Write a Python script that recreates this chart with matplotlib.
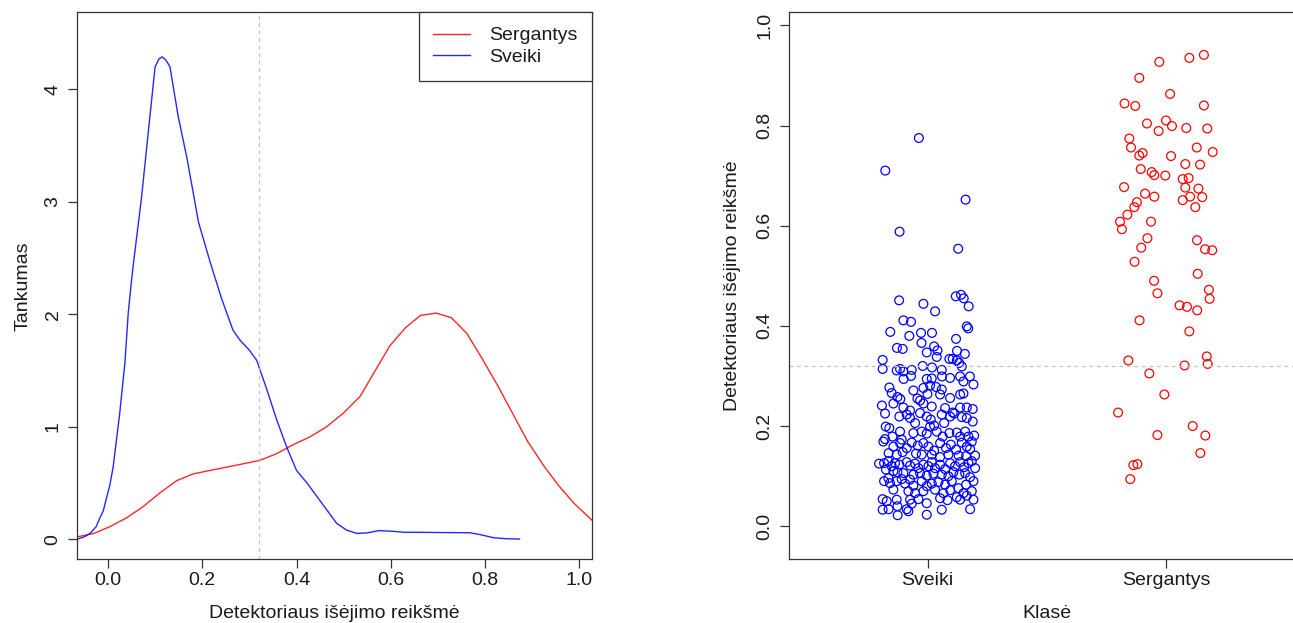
import matplotlib
matplotlib.use("Agg")
import matplotlib.pyplot as plt

plt.rcParams['font.family'] = ['Liberation Sans', 'DejaVu Sans']

# ---------------- data ----------------
# density curve of "Sveiki" (healthy)
sveiki_dens_x = [-0.065, -0.05, -0.038, -0.025, -0.017, -0.010, 0.004, 0.011, 0.025, 0.036,
                 0.043, 0.050, 0.054, 0.071, 0.089, 0.100, 0.108, 0.115, 0.123, 0.1316,
                 0.149, 0.168, 0.192, 0.217, 0.241, 0.265, 0.280, 0.300, 0.3155, 0.337,
                 0.358, 0.379, 0.400, 0.422, 0.443, 0.464, 0.485, 0.506, 0.528, 0.55,
                 0.574, 0.60, 0.631, 0.662, 0.704, 0.768, 0.789, 0.818, 0.845, 0.873]
sveiki_dens_y = [0.0, 0.02, 0.05, 0.11, 0.19, 0.25, 0.48, 0.64, 1.12, 1.57,
                 2.01, 2.30, 2.45, 3.03, 3.76, 4.20, 4.27, 4.29, 4.26, 4.20,
                 3.76, 3.38, 2.82, 2.46, 2.14, 1.86, 1.77, 1.68, 1.59, 1.33,
                 1.06, 0.82, 0.61, 0.50, 0.38, 0.26, 0.14, 0.08, 0.05, 0.055,
                 0.075, 0.07, 0.06, 0.06, 0.058, 0.056, 0.04, 0.012, 0.003, 0.0]

# density curve of "Sergantys" (diseased)
serg_dens_x = [-0.065, -0.03, 0.004, 0.04, 0.075, 0.110, 0.146, 0.181, 0.216, 0.252,
               0.287, 0.322, 0.358, 0.393, 0.429, 0.464, 0.499, 0.535, 0.56, 0.598,
               0.631, 0.663, 0.696, 0.728, 0.761, 0.793, 0.826, 0.858, 0.890, 0.923,
               0.955, 0.988, 1.026]
serg_dens_y = [0.02, 0.05, 0.11, 0.19, 0.29, 0.41, 0.52, 0.58, 0.61, 0.64,
               0.67, 0.70, 0.76, 0.84, 0.91, 1.0, 1.12, 1.27, 1.45, 1.72,
               1.88, 1.99, 2.01, 1.97, 1.83, 1.61, 1.37, 1.12, 0.87, 0.66,
               0.48, 0.32, 0.17]

threshold = 0.32

# strip chart: jittered class position and detector output
sveiki_pts = [
    (0.963, 0.775), (0.822, 0.71), (1.159, 0.652), (0.882, 0.588), (1.128, 0.554),
    (0.88, 0.451), (0.982, 0.444), (1.031, 0.429), (1.118, 0.459), (1.14, 0.462), (1.151, 0.455),
    (1.172, 0.439), (0.898, 0.411), (0.93, 0.408), (1.164, 0.399), (1.17, 0.395),
    (0.843, 0.388), (0.923, 0.38), (0.972, 0.386), (1.018, 0.386), (0.974, 0.366), (1.119, 0.374),
    (0.871, 0.356), (0.895, 0.354), (1.027, 0.359), (1.041, 0.351), (0.996, 0.347), (1.038, 0.338),
    (1.123, 0.35), (1.156, 0.344), (1.091, 0.334), (1.105, 0.334), (1.122, 0.331),
    (0.811, 0.332), (0.811, 0.314), (0.87, 0.311), (0.884, 0.314), (0.898, 0.309), (0.933, 0.312),
    (0.979, 0.32), (1.018, 0.317), (1.059, 0.312), (1.132, 0.326), (1.143, 0.319), (0.93, 0.30),
    (0.899, 0.294), (0.996, 0.294), (1.017, 0.295), (1.06, 0.299), (1.094, 0.296), (1.136, 0.299),
    (1.177, 0.299), (1.15, 0.289), (1.192, 0.283),
    (0.839, 0.277), (0.849, 0.266), (0.873, 0.258), (0.885, 0.254), (0.94, 0.271), (0.957, 0.255),
    (0.968, 0.251), (0.982, 0.276), (1.01, 0.281), (1.035, 0.278), (1.059, 0.273), (1.094, 0.256),
    (1.136, 0.263), (1.15, 0.265), (1.052, 0.263), (0.999, 0.264), (0.856, 0.245), (0.898, 0.237),
    (0.926, 0.231), (0.982, 0.245), (1.017, 0.239), (1.073, 0.236), (1.105, 0.227), (1.136, 0.237),
    (1.164, 0.237), (1.189, 0.234), (0.808, 0.241), (0.821, 0.225),
    (0.824, 0.199), (0.839, 0.196), (0.881, 0.219), (0.912, 0.223), (0.926, 0.216), (0.947, 0.206),
    (0.968, 0.226), (0.996, 0.219), (1.013, 0.213), (1.027, 0.201), (1.059, 0.223), (1.069, 0.206),
    (1.094, 0.219), (1.112, 0.225), (1.143, 0.218), (1.164, 0.216), (1.189, 0.209), (0.821, 0.174),
    (0.852, 0.179), (0.884, 0.189), (0.891, 0.173), (0.94, 0.186), (0.975, 0.189), (0.996, 0.185),
    (1.01, 0.199), (1.038, 0.189), (1.063, 0.179), (1.091, 0.186), (1.122, 0.187), (1.136, 0.179),
    (1.157, 0.189), (1.171, 0.179), (1.195, 0.181),
    (0.814, 0.169), (0.856, 0.159), (0.884, 0.166), (0.912, 0.156), (0.933, 0.167), (0.958, 0.161),
    (0.982, 0.166), (1.003, 0.159), (1.027, 0.151), (1.052, 0.166), (1.077, 0.156), (1.097, 0.163),
    (1.119, 0.153), (1.143, 0.167), (1.164, 0.159), (1.185, 0.169), (1.178, 0.154), (0.836, 0.146),
    (0.87, 0.143), (0.895, 0.148), (0.951, 0.145), (0.975, 0.143), (1.017, 0.143), (1.052, 0.138),
    (1.087, 0.143), (1.13, 0.141), (1.161, 0.14), (1.199, 0.141),
    (0.796, 0.125), (0.817, 0.126), (0.835, 0.13), (0.849, 0.12), (0.863, 0.126), (0.881, 0.123),
    (0.825, 0.113), (0.856, 0.11), (0.873, 0.108), (0.912, 0.128), (0.926, 0.121), (0.947, 0.125),
    (0.961, 0.116), (0.982, 0.123), (1.003, 0.12), (1.017, 0.128), (1.031, 0.116), (1.052, 0.123),
    (1.073, 0.114), (1.094, 0.126), (1.115, 0.12), (1.136, 0.128), (1.153, 0.118), (1.171, 0.126),
    (1.185, 0.13), (1.199, 0.116), (0.898, 0.106), (0.94, 0.103), (0.968, 0.106), (0.996, 0.101),
    (1.024, 0.105), (1.059, 0.103), (1.087, 0.10), (1.108, 0.108), (1.133, 0.103), (1.157, 0.106),
    (1.178, 0.098), (0.835, 0.096), (0.891, 0.094), (0.926, 0.093),
    (0.817, 0.09), (0.842, 0.086), (0.87, 0.09), (0.905, 0.085), (0.94, 0.081), (0.975, 0.09),
    (0.996, 0.08), (1.017, 0.085), (1.045, 0.088), (1.073, 0.083), (1.101, 0.09), (1.129, 0.076),
    (1.161, 0.083), (1.192, 0.09), (0.856, 0.073), (0.919, 0.07), (0.947, 0.066), (0.982, 0.07),
    (1.031, 0.073), (1.066, 0.066), (1.094, 0.072), (1.15, 0.066), (1.185, 0.07), (0.811, 0.054),
    (0.828, 0.05), (0.87, 0.053), (0.926, 0.053), (0.961, 0.054), (0.996, 0.046), (1.052, 0.056),
    (1.083, 0.052), (1.122, 0.058), (1.164, 0.061), (1.192, 0.053), (0.811, 0.033), (0.836, 0.034),
    (0.873, 0.04), (0.912, 0.034), (0.933, 0.045), (0.996, 0.023), (1.059, 0.033), (1.136, 0.053),
    (1.178, 0.034), (0.874, 0.022), (0.919, 0.03),
]

sergantys_pts = [
    (1.972, 0.927), (2.098, 0.935), (2.159, 0.941), (1.888, 0.895), (2.017, 0.863), (1.826, 0.844),
    (1.871, 0.839), (2.159, 0.840), (1.920, 0.804), (2.000, 0.810), (2.025, 0.799), (1.969, 0.789),
    (2.085, 0.795), (2.173, 0.794), (1.846, 0.774), (1.853, 0.756), (2.129, 0.756), (2.196, 0.747),
    (1.888, 0.740), (1.902, 0.745), (2.021, 0.739), (2.081, 0.723), (2.143, 0.722), (1.894, 0.713),
    (1.940, 0.707), (1.951, 0.701), (1.997, 0.700), (2.070, 0.693), (2.095, 0.695), (1.824, 0.677),
    (2.081, 0.676), (2.136, 0.674), (1.912, 0.664), (1.951, 0.658), (2.101, 0.658), (2.152, 0.657),
    (2.070, 0.651), (2.123, 0.637), (1.878, 0.647), (1.867, 0.637), (1.838, 0.622), (1.807, 0.608),
    (1.815, 0.593), (1.937, 0.608), (1.922, 0.575), (1.896, 0.556), (2.130, 0.571), (2.164, 0.553),
    (2.194, 0.551), (1.868, 0.528), (2.133, 0.504), (1.950, 0.490), (1.964, 0.465), (2.180, 0.472),
    (2.183, 0.454), (2.057, 0.441), (2.088, 0.438), (2.131, 0.431), (1.889, 0.411), (2.098, 0.389),
    (1.842, 0.331), (2.171, 0.339), (2.175, 0.324), (2.078, 0.321), (1.930, 0.305), (1.993, 0.263),
    (1.799, 0.227), (2.112, 0.200), (1.964, 0.182), (2.165, 0.181), (2.144, 0.146), (1.863, 0.122),
    (1.880, 0.124), (1.850, 0.094),
]

class_labels = ["Sveiki", "Sergantys"]
class_pos = [1, 2]
density_yticks = [0, 1, 2, 3, 4]
density_xticks = [0.0, 0.2, 0.4, 0.6, 0.8, 1.0]
strip_yticks = [0.0, 0.2, 0.4, 0.6, 0.8, 1.0]

# ---------------- styling ----------------
W, H = 1293, 623
FS = 14
FRAME = '#333333'
TXT = '#1a1a1a'
RED = '#ff0000'
BLUE = '#0000ff'
GREY = '#c4c4c4'

fig = plt.figure(figsize=(W / 100, H / 100), dpi=100)

def px_axes(left, top, right, bottom):
    return fig.add_axes([left / W, 1 - bottom / H, (right - left) / W, (bottom - top) / H])

def style(ax):
    for s in ax.spines.values():
        s.set_color(FRAME)
        s.set_linewidth(0.9)
    ax.tick_params(direction='out', length=6.3, width=0.9, color=FRAME,
                   labelsize=FS, labelcolor=TXT)
    ax.tick_params(axis='x', pad=3)
    ax.tick_params(axis='y', pad=5)

# ---------------- left: densities ----------------
ax1 = px_axes(77.3, 12.3, 591.7, 559.3)
style(ax1)
ax1.plot(serg_dens_x, serg_dens_y, color=RED, lw=1.0, alpha=0.85, label='Sergantys')
ax1.plot(sveiki_dens_x, sveiki_dens_y, color=BLUE, lw=1.0, alpha=0.85, label='Sveiki')
ax1.axvline(threshold, color=GREY, lw=0.9, dashes=(3, 3))
ax1.set_xlim(-0.065, 1.026)
ax1.set_ylim(-0.18, 4.686)
ax1.set_xticks(density_xticks)
ax1.set_xticklabels([f"{v:.1f}" for v in density_xticks])
ax1.set_yticks(density_yticks)
ax1.set_yticklabels([str(v) for v in density_yticks], rotation=90, va='center')
ax1.set_xlabel("Detektoriaus išėjimo reikšmė", fontsize=FS, color=TXT)
ax1.set_ylabel("Tankumas", fontsize=FS, color=TXT)
ax1.xaxis.set_label_coords(0.5, -0.083)
ax1.yaxis.set_label_coords(-0.088, 0.5)

leg = ax1.legend(loc='upper right', borderaxespad=0, fancybox=False, framealpha=1,
                 edgecolor=FRAME, fontsize=FS, handlelength=1.9, handletextpad=0.95,
                 borderpad=0.75, labelspacing=0.2)
leg.get_frame().set_linewidth(0.9)
for t in leg.get_texts():
    t.set_color(TXT)

# ---------------- right: strip chart ----------------
ax2 = px_axes(789, 12.3, 1304.7, 559.3)
style(ax2)
ax2.scatter([p[0] for p in sveiki_pts], [p[1] for p in sveiki_pts], s=40,
            facecolors='none', edgecolors=BLUE, linewidths=0.9)
ax2.scatter([p[0] for p in sergantys_pts], [p[1] for p in sergantys_pts], s=40,
            facecolors='none', edgecolors=RED, linewidths=0.9)
ax2.axhline(threshold, color=GREY, lw=0.9, dashes=(3, 3))
ax2.set_xlim(0.418, 2.582)
ax2.set_ylim(-0.066, 1.026)
ax2.set_xticks(class_pos)
ax2.set_xticklabels(class_labels)
ax2.set_yticks(strip_yticks)
ax2.set_yticklabels([f"{v:.1f}" for v in strip_yticks], rotation=90, va='center')
ax2.set_xlabel("Klasė", fontsize=FS, color=TXT)
ax2.set_ylabel("Detektoriaus išėjimo reikšmė", fontsize=FS, color=TXT)
ax2.xaxis.set_label_coords(0.5, -0.083)
ax2.yaxis.set_label_coords(-0.093, 0.5)

fig.savefig("out.png", dpi=100)
